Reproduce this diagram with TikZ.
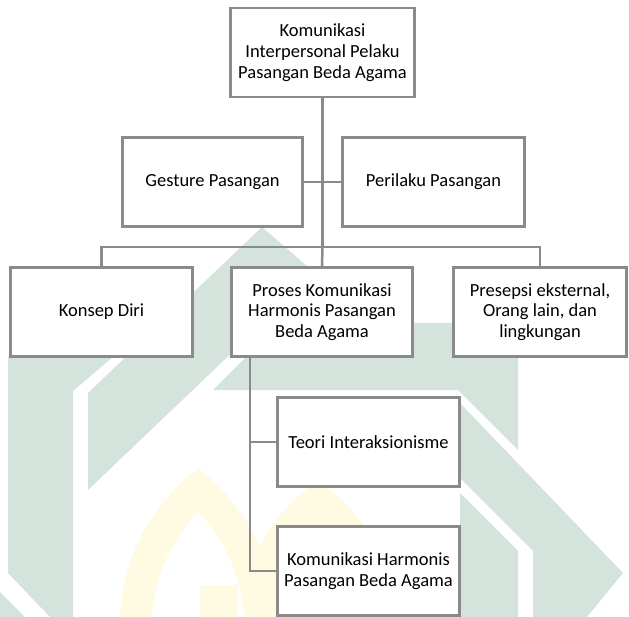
\documentclass[tikz,border=0pt]{standalone}
\usepackage{fontspec}
\setmainfont{Carlito}
\definecolor{linegray}{RGB}{138,138,138}
\definecolor{wmgreen}{RGB}{212,227,219}
\definecolor{wmyellow}{RGB}{255,250,226}

\begin{document}
\begin{tikzpicture}[x=1pt, y=-1pt,
  box/.style={draw=linegray, line width=2.5pt, fill=white, align=center,
    minimum width=182pt, minimum height=89pt, inner sep=1pt,
    font=\fontsize{18.5}{20.7}\selectfont},
  link/.style={draw=linegray, line width=2.5pt}]
  \useasboundingbox (0,0) rectangle (629,617);

  % watermark behind the chart
  \fill[wmgreen] (8,357) -- (113,357) -- (73,391) -- (73,617) -- (50,617) -- (8,573) -- cycle;
  \fill[wmgreen] (0,592) -- (25,617) -- (0,617) -- cycle;
  \fill[wmgreen] (88,393) -- (262,227) -- (330,286) -- (262,324) -- (88,490) -- cycle;
  \fill[wmgreen] (280,323) -- (518,323) -- (518,450) -- (458,390) -- (213,390) -- cycle;
  \fill[wmgreen] (460,403) -- (623,573) -- (587,617) -- (533,617) -- (533,551) -- (460,478) -- cycle;
  \fill[wmgreen] (460,493) -- (518,551) -- (518,617) -- (460,617) -- cycle;
  \fill[wmyellow] (120,617) .. controls (124,540) and (165,495) .. (198,468)
    .. controls (231,495) and (272,540) .. (276,617) -- cycle;
  \fill[wmyellow] (240,617) .. controls (244,545) and (285,505) .. (318,480)
    .. controls (351,505) and (392,545) .. (396,617) -- cycle;
  \fill[white] (152,617) .. controls (156,565) and (180,530) .. (198,512)
    .. controls (216,530) and (240,565) .. (244,617) -- cycle;
  \fill[wmyellow] (200,585) rectangle (238,617);

  \node[box, minimum width=184pt] (top) at (322.5,52.5) {Komunikasi\\Interpersonal Pelaku\\Pasangan Beda Agama};
  \node[box, minimum width=180pt] (gest) at (212.5,182) {Gesture Pasangan};
  \node[box] (peri) at (433.5,182) {Perilaku Pasangan};
  \node[box] (konsep) at (101.5,312) {Konsep Diri};
  \node[box, minimum width=181pt] (proses) at (322,312) {Proses Komunikasi\\Harmonis Pasangan\\Beda Agama};
  \node[box, minimum width=173pt] (presepsi) at (540,312) {Presepsi eksternal,\\Orang lain, dan\\lingkungan};
  \node[box] (teori) at (368.5,442) {Teori Interaksionisme};
  \node[box] (komhar) at (368.5,571) {Komunikasi Harmonis\\Pasangan Beda Agama};

  \coordinate (bus) at (322.5,247);
  \coordinate (spine) at (250,357);

  \draw[link] (top.south) -- (bus);
  \draw[link] (gest.east) -- (gest.east -| top.south);
  \draw[link] (peri.west) -- (peri.west -| top.south);
  \draw[link] (konsep.north) |- (bus) -| (presepsi.north);
  \draw[link] (bus) -- (proses.north);
  \draw[link] (spine) |- (teori.west);
  \draw[link] (spine) |- (komhar.west);
\end{tikzpicture}
\end{document}
